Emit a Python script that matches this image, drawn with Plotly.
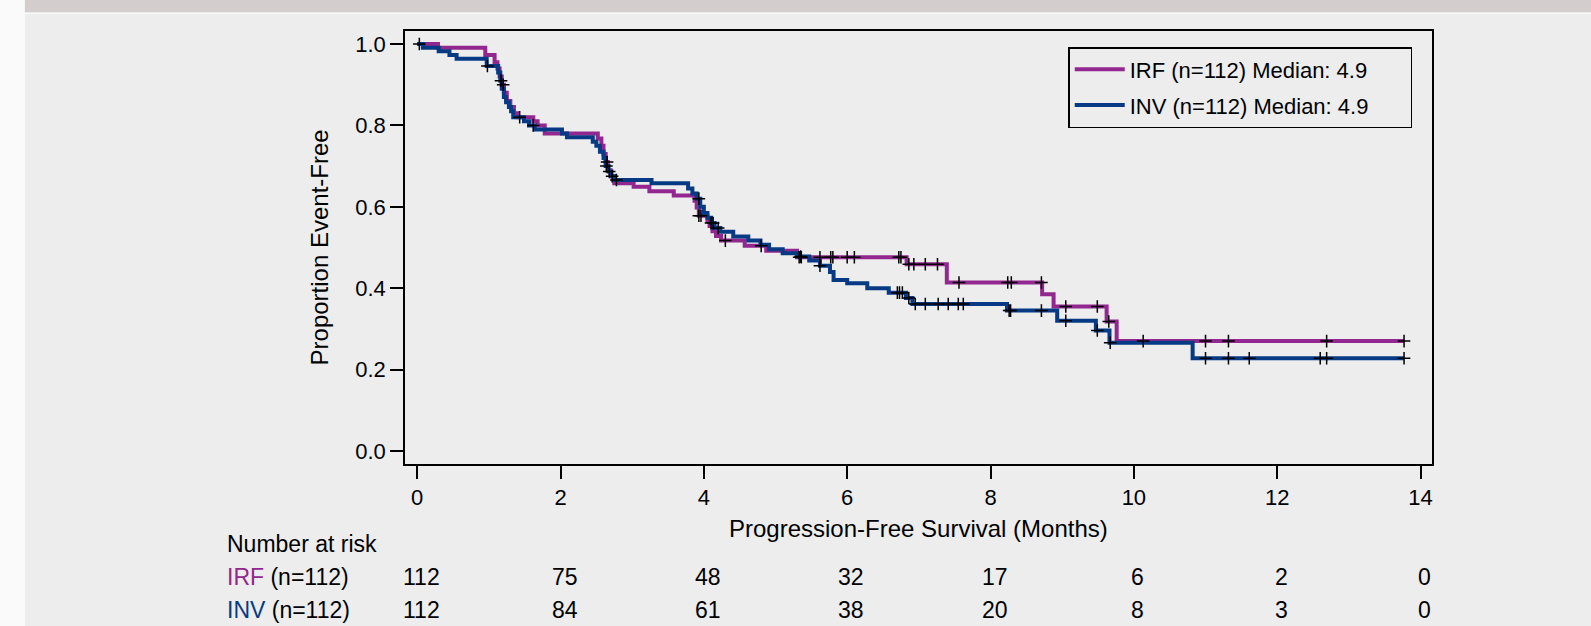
import plotly.graph_objects as go

# ---------------- data ----------------
irf_times = [0.0, 0.29, 0.95, 1.08, 1.12, 1.15, 1.18, 1.21, 1.25, 1.30, 1.35, 1.40, 1.62, 1.68, 1.78,
             2.52, 2.57, 2.60, 2.63, 2.66, 2.70, 2.75, 3.02, 3.24, 3.58, 3.87, 3.90, 3.93, 4.05, 4.08,
             4.12, 4.17, 4.24, 4.57, 4.87, 5.30, 6.83, 7.39, 8.72, 8.88, 9.62, 9.76]
irf_surv = [1.0, 0.991, 0.973, 0.955, 0.94, 0.92, 0.90, 0.88, 0.86, 0.845, 0.83, 0.82, 0.81, 0.80, 0.78,
            0.768, 0.75, 0.73, 0.71, 0.69, 0.675, 0.658, 0.649, 0.638, 0.628, 0.615, 0.598, 0.578, 0.565, 0.553,
            0.54, 0.528, 0.517, 0.504, 0.492, 0.476, 0.459, 0.414, 0.385, 0.355, 0.318, 0.27]
irf_censor = [0.03, 1.2, 2.65, 3.93, 3.96, 4.3, 4.8, 5.33, 5.36, 5.62, 5.77, 5.8, 6.0, 6.1, 6.72, 6.75,
              6.86, 6.93, 7.09, 7.26, 7.56, 8.24, 8.29, 8.71, 9.05, 9.49, 9.65, 10.13, 11.0, 11.32, 12.69, 13.77]

inv_times = [0.0, 0.08, 0.30, 0.45, 0.55, 0.97, 1.13, 1.16, 1.18, 1.21, 1.24, 1.28, 1.31, 1.34, 1.49, 1.56,
             1.64, 2.02, 2.09, 2.45, 2.50, 2.55, 2.60, 2.63, 2.67, 2.71, 2.76, 3.27, 3.78, 3.84, 3.90, 3.95,
             4.00, 4.05, 4.10, 4.15, 4.23, 4.41, 4.62, 4.79, 4.91, 5.10, 5.31, 5.47, 5.62, 5.76, 5.81, 6.00,
             6.28, 6.58, 6.82, 6.91, 8.23, 8.93, 9.47, 9.66, 10.82]
inv_surv = [1.0, 0.991, 0.982, 0.973, 0.964, 0.946, 0.93, 0.91, 0.89, 0.87, 0.857, 0.845, 0.835, 0.82, 0.81, 0.80,
            0.79, 0.78, 0.771, 0.76, 0.75, 0.735, 0.72, 0.70, 0.687, 0.675, 0.666, 0.658, 0.645, 0.633, 0.62, 0.60,
            0.585, 0.573, 0.56, 0.548, 0.539, 0.527, 0.517, 0.507, 0.496, 0.486, 0.478, 0.468, 0.455, 0.44, 0.42, 0.412,
            0.40, 0.389, 0.376, 0.361, 0.345, 0.32, 0.296, 0.266, 0.228]
inv_censor = [0.98, 1.17, 1.43, 1.62, 2.64, 2.68, 2.72, 2.78, 3.93, 4.1, 4.13, 4.2, 5.35, 5.62, 6.70, 6.73,
              6.77, 6.86, 6.95, 7.09, 7.27, 7.41, 7.55, 7.62, 8.26, 8.28, 8.71, 9.05, 9.49, 9.67, 11.0, 11.32,
              11.61, 12.6, 12.69, 13.77]

end_time = 13.77
risk_times = [0, 2, 4, 6, 8, 10, 12, 14]
irf_risk = [112, 75, 48, 32, 17, 6, 2, 0]
inv_risk = [112, 84, 61, 38, 20, 8, 3, 0]

series_names = ["IRF (n=112) Median: 4.9", "INV (n=112) Median: 4.9"]
x_ticks = [0, 2, 4, 6, 8, 10, 12, 14]
y_ticks = [0.0, 0.2, 0.4, 0.6, 0.8, 1.0]

PURPLE = "#92278f"
BLUE = "#073a84"
BG = "#ededed"
FONT = "Liberation Sans, Arial, sans-serif"
PAD = "\u00a0" * 6


def surv_at(t, times, surv):
    v = surv[0]
    for tt, ss in zip(times, surv):
        if tt <= t:
            v = ss
    return v


fig = go.Figure()
for times, surv, color, name in [
    (irf_times, irf_surv, PURPLE, series_names[0]),
    (inv_times, inv_surv, BLUE, series_names[1]),
]:
    fig.add_trace(go.Scatter(
        x=times + [end_time], y=surv + [surv[-1]], mode="lines", line_shape="hv",
        line=dict(color=color, width=4), name=name + PAD, legendgroup=name,
    ))

for times, surv, cens in [(irf_times, irf_surv, irf_censor), (inv_times, inv_surv, inv_censor)]:
    fig.add_trace(go.Scatter(
        x=cens, y=[surv_at(c, times, surv) for c in cens], mode="markers",
        marker=dict(symbol="cross-thin", size=9, line=dict(color="black", width=1.5)),
        showlegend=False, hoverinfo="skip",
    ))

axis_common = dict(showline=True, mirror=True, linecolor="black", linewidth=1.5,
                   ticks="outside", ticklen=13, tickwidth=1.5, tickcolor="black",
                   showgrid=False, zeroline=False,
                   tickfont=dict(family=FONT, size=22, color="black"))

fig.update_xaxes(range=[-0.17, 14.16], tickvals=x_ticks, ticklabelstandoff=0, **axis_common)
fig.update_yaxes(range=[-0.032, 1.032], tickvals=y_ticks, tickformat=".1f", **axis_common)

txt = dict(family=FONT, size=23, color="black")
annotations = [
    dict(text="Proportion Event-Free", x=-0.0828, y=0.5, xref="paper", yref="paper",
         xanchor="center", yanchor="middle",
         textangle=-90, showarrow=False, font=dict(family=FONT, size=24, color="black")),
    dict(text="Progression-Free Survival (Months)", x=7.0, y=-0.150, xref="x", yref="paper",
         xanchor="center", yanchor="middle",
         showarrow=False, font=dict(family=FONT, size=24, color="black")),
    dict(text="Number at risk", x=-0.1753, y=-0.185, xref="paper", yref="paper", xanchor="left",
         yanchor="middle", showarrow=False, font=txt),
    dict(text=f"<span style='color:{PURPLE}'>IRF</span> (n=112)", x=-0.1753, y=-0.261, xref="paper",
         yref="paper", xanchor="left", yanchor="middle", showarrow=False, font=txt),
    dict(text=f"<span style='color:{BLUE}'>INV</span> (n=112)", x=-0.1753, y=-0.337, xref="paper",
         yref="paper", xanchor="left", yanchor="middle", showarrow=False, font=txt),
]
for t, a, b in zip(risk_times, irf_risk, inv_risk):
    annotations.append(dict(text=str(a), x=t, y=-0.261, xref="x", yref="paper", xshift=4,
                            xanchor="center", yanchor="middle", showarrow=False, font=txt))
    annotations.append(dict(text=str(b), x=t, y=-0.337, xref="x", yref="paper", xshift=4,
                            xanchor="center", yanchor="middle", showarrow=False, font=txt))

shapes = [
    dict(type="rect", xref="paper", yref="paper", x0=-0.3945, x1=-0.3701, y0=-0.5, y1=1.2,
         fillcolor="#fafafa", line=dict(width=0), layer="below"),
    dict(type="rect", xref="paper", yref="paper", x0=-0.3701, x1=1.2, y0=1.0427, y1=1.2,
         fillcolor="#d3cdcd", line=dict(width=0), layer="below"),
    dict(type="rect", xref="paper", yref="paper", x0=-0.3701, x1=1.2, y0=1.0390, y1=1.0427,
         fillcolor="#f7f7f7", line=dict(width=0), layer="below"),
]

fig.update_layout(
    width=1591, height=626,
    margin=dict(l=405, r=159, t=31, b=162),
    paper_bgcolor=BG, plot_bgcolor=BG,
    font=dict(family=FONT, size=20, color="black"),
    showlegend=True,
    legend=dict(x=0.6458, y=0.963, xanchor="left", yanchor="top",
                bgcolor=BG, bordercolor="black", borderwidth=1.5,
                font=dict(family=FONT, size=22, color="black"),
                itemwidth=50, tracegroupgap=4),
    annotations=annotations,
    shapes=shapes,
)

fig.write_html(
    "out.html",
    config={"displayModeBar": False},
    post_script=(
        "document.documentElement.style.margin='0';"
        "document.documentElement.style.overflow='hidden';"
        "document.documentElement.style.background='#ededed';"
        "document.body.style.margin='0';"
        "document.body.style.overflow='hidden';"
        "document.body.style.background='#ededed';"
    ),
)
